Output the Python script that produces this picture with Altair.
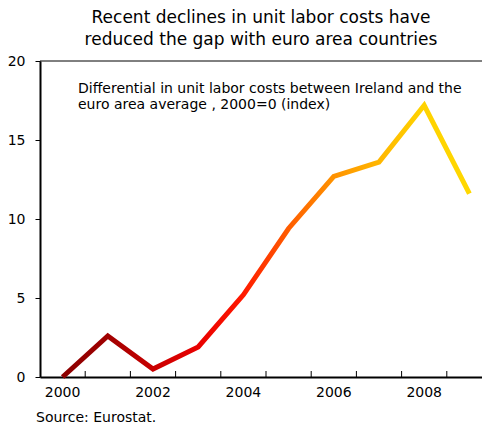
import altair as alt
import pandas as pd

years = [2000, 2001, 2002, 2003, 2004, 2005, 2006, 2007, 2008, 2009]
values = [0.0, 2.6, 0.5, 1.9, 5.2, 9.4, 12.7, 13.6, 17.2, 11.6]
title_lines = ["Recent declines in unit labor costs have", "reduced the gap with euro area countries"]
note_lines = ["Differential in unit labor costs between Ireland and the", "euro area average , 2000=0 (index)"]
source = "Source: Eurostat."

W, H = 442, 316
XR = 452
FONT = "DejaVu Sans"

df = pd.DataFrame({"year": years, "value": values})
xscale = alt.Scale(type="band", domain=years, paddingInner=0, paddingOuter=0, range=[0, XR])

grad = alt.Gradient(
    gradient="linear",
    x1=0, x2=1, y1=0, y2=0,
    stops=[
        alt.GradientStop(offset=0.0, color="#8B0000"),
        alt.GradientStop(offset=0.11, color="#A00000"),
        alt.GradientStop(offset=0.22, color="#C80000"),
        alt.GradientStop(offset=0.33, color="#E80000"),
        alt.GradientStop(offset=0.44, color="#FF1800"),
        alt.GradientStop(offset=0.55, color="#FF5A00"),
        alt.GradientStop(offset=0.66, color="#FF9000"),
        alt.GradientStop(offset=0.77, color="#FFB400"),
        alt.GradientStop(offset=0.88, color="#FFD200"),
        alt.GradientStop(offset=1.0, color="#FFD800"),
    ],
)

line = alt.Chart(df).mark_line(color=grad, strokeWidth=5, strokeJoin="miter", strokeCap="butt").encode(
    x=alt.X("year:O", scale=xscale, bandPosition=0.5,
            axis=alt.Axis(title=None, ticks=False, domain=True, domainColor="black", domainWidth=2,
                          bandPosition=0.5,
                          labelExpr="datum.value % 2 == 0 ? datum.label : ''",
                          labelFont=FONT, labelFontSize=14, labelColor="black", labelPadding=15,
                          labelAngle=0, labelAlign="center")),
    y=alt.Y("value:Q", scale=alt.Scale(domain=[0, 20], nice=False),
            axis=alt.Axis(title=None, values=[0, 5, 10, 15, 20], grid=False, domainColor="black",
                          domainWidth=2, tickColor="black", tickSize=5, tickWidth=1,
                          labelFont=FONT, labelFontSize=14, labelColor="black", labelPadding=10)),
)

ticks = alt.Chart(pd.DataFrame({"year": years[1:]})).mark_rule(color="black", strokeWidth=1).encode(
    x=alt.X("year:O", scale=xscale, bandPosition=0),
    y=alt.value(H - 6),
    y2=alt.value(H),
)

border = alt.Chart(pd.DataFrame({"t": [0]})).mark_rule(color="black", strokeWidth=1).encode(
    x=alt.value(0), x2=alt.value(W), y=alt.value(0)
)

title = alt.Chart(pd.DataFrame({"t": ["\n".join(title_lines)]})).mark_text(
    align="center", baseline="alphabetic", font=FONT, fontSize=17, color="black", lineBreak="\n", lineHeight=22
).encode(text="t:N", x=alt.value(221), y=alt.value(-38))

note = alt.Chart(pd.DataFrame({"t": ["\n".join(note_lines)]})).mark_text(
    align="left", baseline="alphabetic", font=FONT, fontSize=14, color="black", lineBreak="\n", lineHeight=16
).encode(text="t:N", x=alt.value(38), y=alt.value(32))

src = alt.Chart(pd.DataFrame({"t": [source]})).mark_text(
    align="left", baseline="alphabetic", font=FONT, fontSize=14, color="black"
).encode(text="t:N", x=alt.value(-4), y=alt.value(H + 45))

chart = alt.layer(border, ticks, line, title, note, src).properties(
    width=W, height=H,
    autosize=alt.AutoSizeParams(type="none"),
    padding={"left": 32, "top": 53, "right": 0, "bottom": 49},
).configure_view(stroke=None)

chart.save("out.html", embed_options={"renderer": "svg", "actions": False})
